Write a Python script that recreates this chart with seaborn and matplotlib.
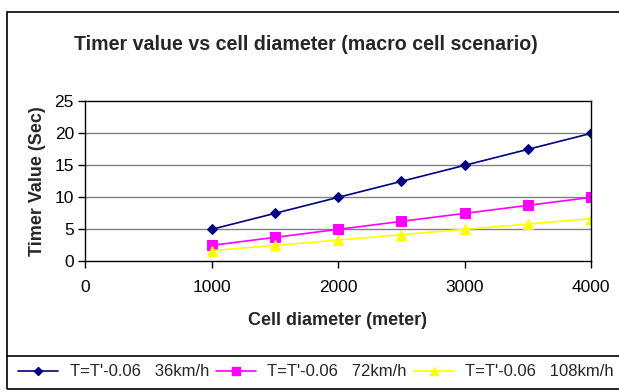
import matplotlib
matplotlib.use("Agg")
import matplotlib.pyplot as plt
import seaborn as sns
import pandas as pd
from matplotlib.patches import Rectangle
from matplotlib.lines import Line2D

diameters = [1000, 1500, 2000, 2500, 3000, 3500, 4000]
timer_36 = [4.94, 7.44, 9.94, 12.44, 14.94, 17.44, 19.94]
timer_72 = [2.44, 3.69, 4.94, 6.19, 7.44, 8.69, 9.94]
timer_108 = [1.61, 2.44, 3.27, 4.11, 4.94, 5.77, 6.61]
series_names = ["T=T'-0.06   36km/h", "T=T'-0.06   72km/h", "T=T'-0.06   108km/h"]
colors = ["#000080", "#FF00FF", "#FFFF00"]
markers = ["D", "s", "^"]
marker_sizes = [5, 7, 7]

sns.set_theme(style="white")
plt.rcParams['font.family'] = ['Liberation Sans', 'DejaVu Sans']

rows = []
for name, vals in zip(series_names, [timer_36, timer_72, timer_108]):
    for d, v in zip(diameters, vals):
        rows.append({"diameter": d, "timer": v, "series": name})
df = pd.DataFrame(rows)

fig = plt.figure(figsize=(6.19, 3.92), dpi=100)
ax = fig.add_axes([85/619, 1-261/392, (591-85)/619, (261-101)/392])

for name, c, m, ms in zip(series_names, colors, markers, marker_sizes):
    sub = df[df["series"] == name]
    sns.lineplot(data=sub, x="diameter", y="timer", ax=ax, color=c, marker=m,
                 markersize=ms, markeredgecolor=c, linewidth=1.2, legend=False)

ax.set_xlim(0, 4000)
ax.set_ylim(0, 25)
ax.set_xticks([0, 1000, 2000, 3000, 4000])
ax.set_yticks([0, 5, 10, 15, 20, 25])
for y in [5, 10, 15, 20]:
    ax.axhline(y, color="#808080", linewidth=1.0, zorder=0)
for s in ax.spines.values():
    s.set_visible(True)
    s.set_color("black")
    s.set_linewidth(1.0)
ax.tick_params(axis="both", direction="out", length=5, width=1, color="black",
               labelsize=12.5, labelcolor="black", bottom=True, left=True, pad=3)
ax.tick_params(axis="x", pad=9)
ax.set_xlabel("Cell diameter (meter)", fontsize=13, fontweight="bold", labelpad=12)
ax.set_ylabel("Timer Value (Sec)", fontsize=13, fontweight="bold", labelpad=6)

fig.text(306/619, 1-45/392, "Timer value vs cell diameter (macro cell scenario)",
         ha="center", va="center", fontsize=14.1, fontweight="bold")

# outer chart border and legend box
fig.patches.append(Rectangle((7/619, 1-389/392), 1.0, (389-12)/392, transform=fig.transFigure,
                             fill=False, edgecolor="black", linewidth=1.2))
fig.lines.append(Line2D([7/619, 1.0], [1-356/392, 1-356/392], transform=fig.transFigure,
                        color="black", linewidth=1.2))

handles = [Line2D([0], [0], color=c, marker=m, markersize=ms - 1, markeredgecolor=c, linewidth=1.2)
           for c, m, ms in zip(colors, markers, marker_sizes)]
fig.legend(handles, series_names, loc="center", bbox_to_anchor=(316/619, 1-372/392),
           ncol=3, frameon=False, fontsize=12, handlelength=2.4, columnspacing=0.4,
           handletextpad=0.7)

fig.savefig("out.png", dpi=100)
